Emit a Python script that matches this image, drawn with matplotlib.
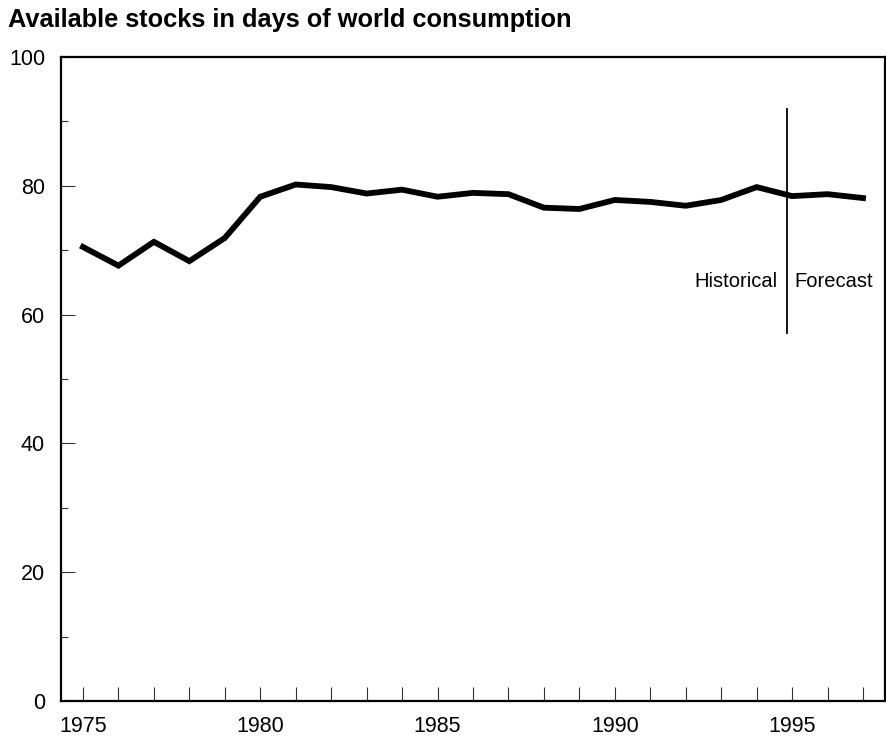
import numpy as np
import matplotlib.pyplot as plt
from matplotlib.ticker import MultipleLocator

plt.rcParams['font.family'] = ['Liberation Sans', 'DejaVu Sans']

years = list(range(1975, 1998))
stocks = [70.5, 67.6, 71.3, 68.3, 71.9, 78.3, 80.2, 79.8, 78.8, 79.4, 78.3,
          78.9, 78.7, 76.6, 76.4, 77.8, 77.5, 76.9, 77.8, 79.8, 78.4, 78.7, 78.1]
split_year = 1994.85
title = "Available stocks in days of world consumption"

fig = plt.figure(figsize=(8.86, 7.38), dpi=100)
ax = fig.add_axes([61 / 886, 1 - 701 / 738, 824 / 886, 644 / 738])

ax.plot(years, stocks, color='black', linewidth=4.2, solid_joinstyle='miter')

# historical / forecast divider
ax.plot([split_year, split_year], [57.2, 92.0], color='black', linewidth=1.3)
ax.text(split_year - 0.25, 65.1, "Historical", ha='right', va='center', fontsize=14.5)
ax.text(split_year + 0.2, 65.1, "Forecast", ha='left', va='center', fontsize=14.5)

ax.set_xlim(1974.38, 1997.62)
ax.set_ylim(0, 100)

ax.set_xticks(years)
ax.set_xticklabels([str(y) if y % 5 == 0 else '' for y in years])
ax.set_yticks([0, 20, 40, 60, 80, 100])
ax.yaxis.set_minor_locator(MultipleLocator(10))

ax.tick_params(axis='x', direction='in', length=10, width=0.8, color='#333333',
               labelsize=15.5, pad=11)
ax.tick_params(axis='y', which='major', direction='in', length=10, width=0.8,
               color='#333333', labelsize=15.5, pad=11.5)
ax.tick_params(axis='y', which='minor', direction='in', length=5, width=0.8,
               color='#333333')

for s in ax.spines.values():
    s.set_linewidth(1.6)

fig.text(8 / 886, 1 - 20 / 738, title, fontsize=18.3, fontweight='bold',
         ha='left', va='center')

plt.savefig('out.png', dpi=100)
